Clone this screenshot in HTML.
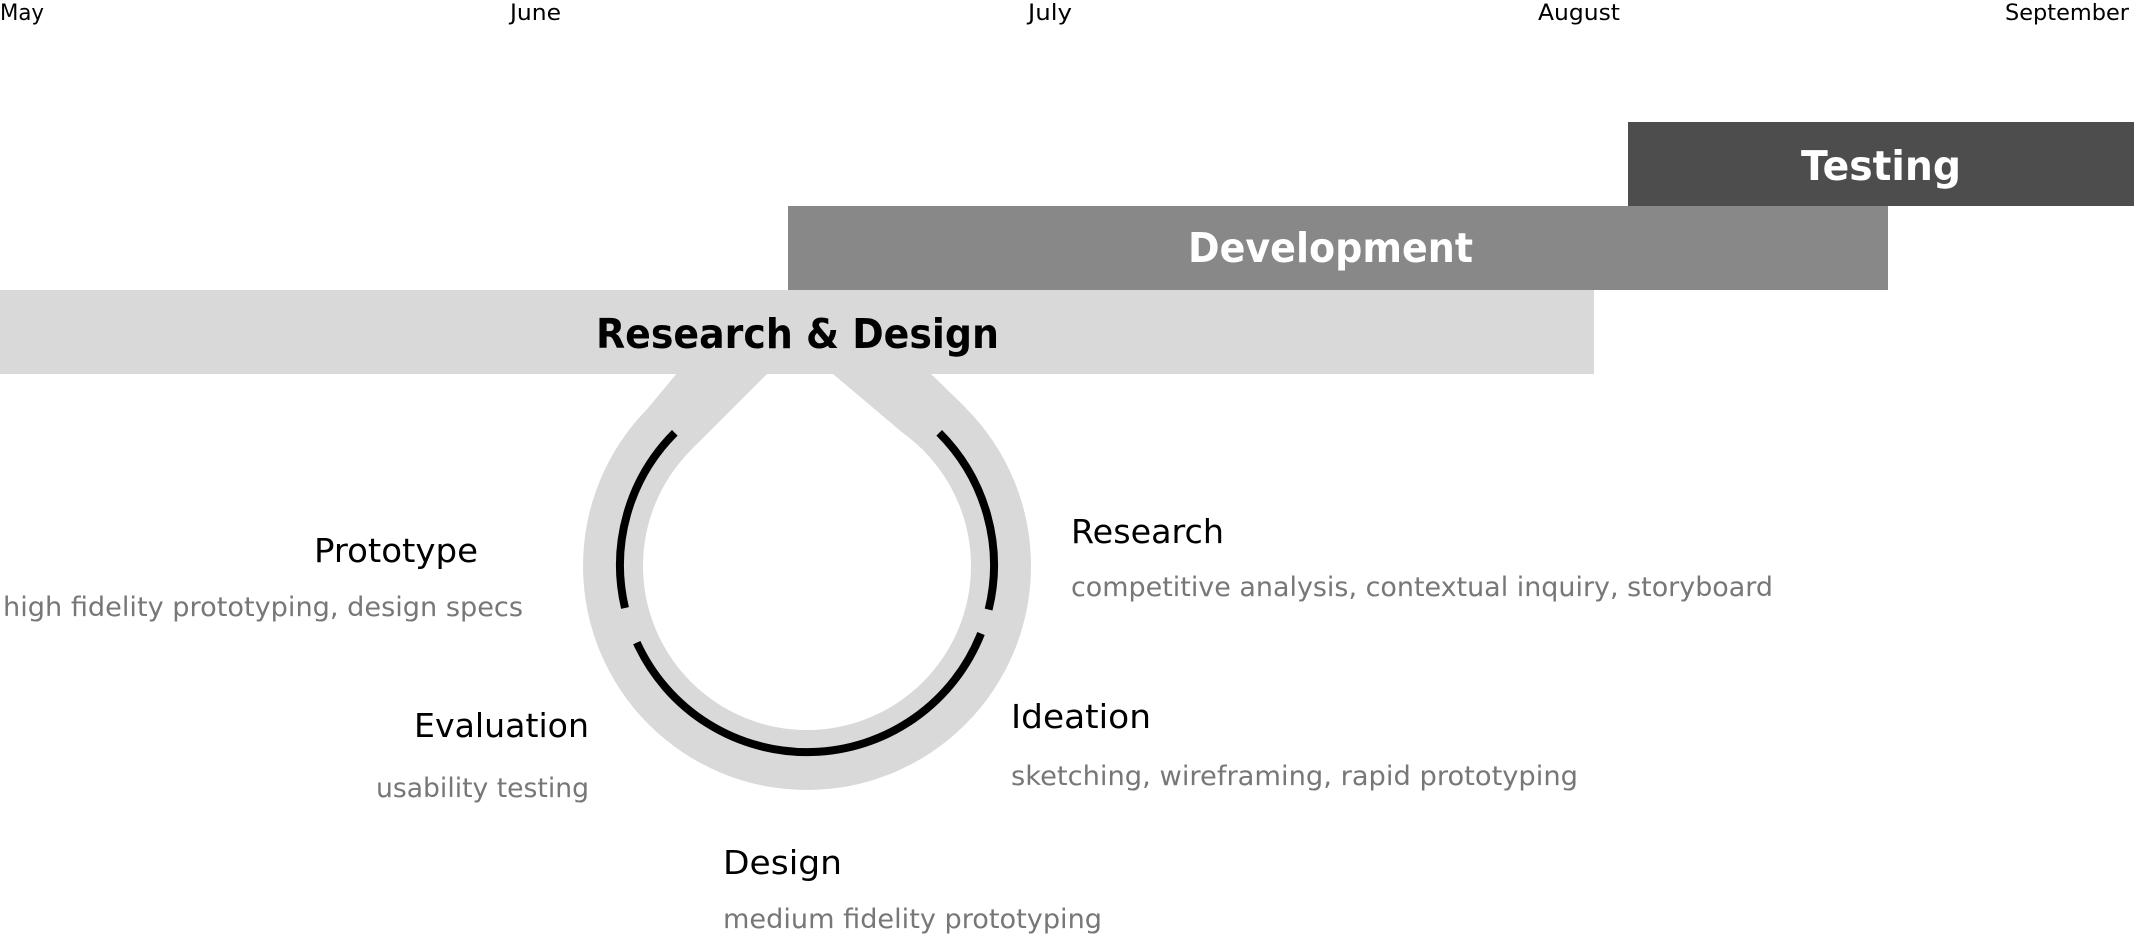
<!DOCTYPE html>
<html><head><meta charset="utf-8"><style>
html,body{margin:0;padding:0;background:#fff;width:2134px;height:938px;overflow:hidden}
svg{display:block}
text{font-family:"DejaVu Sans","Liberation Sans",sans-serif}
</style></head><body>
<svg width="2134" height="938" viewBox="0 0 2134 938" xmlns="http://www.w3.org/2000/svg">
<g font-size="22" fill="#000">
<text x="0" y="20" textLength="44" lengthAdjust="spacingAndGlyphs">May</text>
<text x="510" y="20" textLength="51" lengthAdjust="spacingAndGlyphs">June</text>
<text x="1028" y="20" textLength="44" lengthAdjust="spacingAndGlyphs">July</text>
<text x="1538" y="20" textLength="82" lengthAdjust="spacingAndGlyphs">August</text>
<text x="2005" y="20" textLength="124" lengthAdjust="spacingAndGlyphs">September</text>
</g>
<rect x="1628" y="122" width="506" height="84" fill="#4d4d4d"/>
<rect x="788" y="206" width="1100" height="84" fill="#888888"/>
<rect x="0" y="290" width="1594" height="84" fill="#d9d9d9"/>
<circle cx="807" cy="566" r="224" fill="#d9d9d9"/>
<polygon points="678,372 929,372 966,408 628,432" fill="#d9d9d9"/>
<circle cx="807" cy="566" r="164" fill="#fff"/>
<polygon points="767,374 833,374 923,450 807,480 691,450" fill="#fff"/>
<g fill="none" stroke="#000" stroke-width="8">
<path d="M674.8,432.8 A187,187 0 0 0 625,608"/>
<path d="M939.2,432.8 A187,187 0 0 1 988.6,609.6"/>
<path d="M981,633.5 A187,187 0 0 1 636.8,642.6"/>
</g>
<g font-weight="bold" font-size="41">
<text x="1801" y="180" fill="#fff" textLength="160" lengthAdjust="spacingAndGlyphs">Testing</text>
<text x="1188" y="262" fill="#fff" textLength="285" lengthAdjust="spacingAndGlyphs">Development</text>
<text x="596" y="348" fill="#000" textLength="403" lengthAdjust="spacingAndGlyphs">Research &amp; Design</text>
</g>
<g font-size="33" fill="#000">
<text x="314" y="562" textLength="164" lengthAdjust="spacingAndGlyphs">Prototype</text>
<text x="589" y="737" text-anchor="end" textLength="175" lengthAdjust="spacingAndGlyphs">Evaluation</text>
<text x="1071" y="543" textLength="153" lengthAdjust="spacingAndGlyphs">Research</text>
<text x="1011" y="728" textLength="140" lengthAdjust="spacingAndGlyphs">Ideation</text>
<text x="723" y="874" textLength="119" lengthAdjust="spacingAndGlyphs">Design</text>
</g>
<g font-size="27" fill="#777">
<text x="3" y="616" textLength="520" lengthAdjust="spacingAndGlyphs">high fidelity prototyping, design specs</text>
<text x="589" y="797" text-anchor="end" textLength="213" lengthAdjust="spacingAndGlyphs">usability testing</text>
<text x="1071" y="596" textLength="702" lengthAdjust="spacingAndGlyphs">competitive analysis, contextual inquiry, storyboard</text>
<text x="1011" y="785" textLength="567" lengthAdjust="spacingAndGlyphs">sketching, wireframing, rapid prototyping</text>
<text x="723" y="928" textLength="379" lengthAdjust="spacingAndGlyphs">medium fidelity prototyping</text>
</g>
</svg>
</body></html>
